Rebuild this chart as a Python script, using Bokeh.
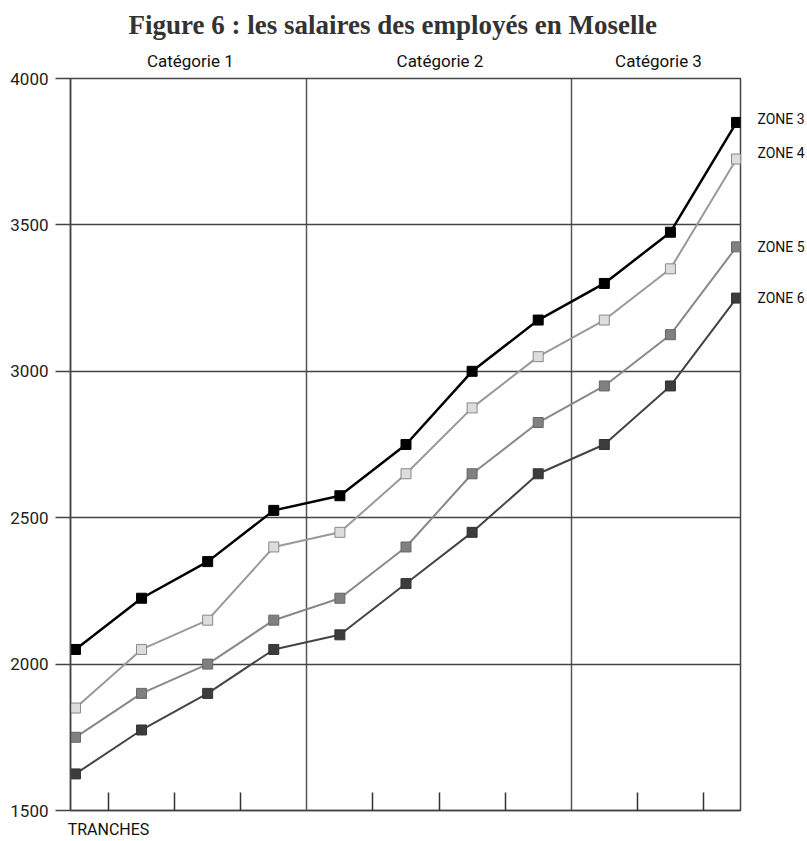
from bokeh.plotting import figure
from bokeh.models import FixedTicker, Range1d, LinearAxis, Title
from bokeh.embed import file_html
from bokeh.resources import INLINE

tranches = list(range(11))
zone3 = [2050, 2225, 2350, 2525, 2575, 2750, 3000, 3175, 3300, 3475, 3850]
zone4 = [1850, 2050, 2150, 2400, 2450, 2650, 2875, 3050, 3175, 3350, 3725]
zone5 = [1750, 1900, 2000, 2150, 2225, 2400, 2650, 2825, 2950, 3125, 3425]
zone6 = [1625, 1775, 1900, 2050, 2100, 2275, 2450, 2650, 2750, 2950, 3250]
zone_names = ["ZONE 3", "ZONE 4", "ZONE 5", "ZONE 6"]
zone_label_y = [3860, 3745, 3424, 3251]
categories = ["Catégorie 1", "Catégorie 2", "Catégorie 3"]
category_x = [1.737, 5.514, 8.82]
y_ticks = [1500, 2000, 2500, 3000, 3500, 4000]
x_label = "TRANCHES"
title_text = "Figure 6 : les salaires des employés en Moselle"

FONT = "Roboto"

p = figure(width=807, height=841, output_backend="svg", toolbar_location=None,
           x_range=Range1d(-0.075, 10.06), y_range=Range1d(1500, 4000),
           min_border_left=70, min_border_right=66, min_border_top=77, min_border_bottom=30)
p.title = Title(text=title_text, align="left", offset=58, standoff=15,
                text_font="Liberation Serif", text_font_size="27px",
                text_font_style="bold", text_color="#333333")
p.outline_line_color = "#444444"
p.outline_line_width = 1.5
p.background_fill_color = "white"
p.border_fill_color = "white"

# grids
p.ygrid.ticker = FixedTicker(ticks=[2000, 2500, 3000, 3500])
p.ygrid.grid_line_color = "#444444"
p.ygrid.grid_line_width = 1.5
p.xgrid.ticker = FixedTicker(ticks=[3.5, 7.5])
p.xgrid.grid_line_color = "#555555"
p.xgrid.grid_line_width = 1.5

# y axis
p.yaxis.ticker = FixedTicker(ticks=y_ticks)
p.yaxis.axis_line_color = "#444444"
p.yaxis.axis_line_width = 1.5
p.yaxis.major_tick_out = 15
p.yaxis.major_tick_in = 0
p.yaxis.major_tick_line_color = "#444444"
p.yaxis.major_tick_line_width = 1.5
p.yaxis.minor_tick_line_color = None
p.yaxis.major_label_standoff = 7
p.yaxis.major_label_text_font = FONT
p.yaxis.major_label_text_font_size = "17px"
p.yaxis.major_label_text_color = "#222222"

# x axis: tick marks between tranches, label TRANCHES under the first one
mid_ticks = [0.5, 1.5, 2.5, 4.5, 5.5, 6.5, 8.5, 9.5]
p.xaxis.ticker = FixedTicker(ticks=mid_ticks)
p.xaxis.major_label_overrides = {**{t: " " for t in mid_ticks[1:]}, 0.5: x_label}
p.xaxis.axis_line_color = "#444444"
p.xaxis.axis_line_width = 1.5
p.xaxis.major_tick_in = 18
p.xaxis.major_tick_out = 0
p.xaxis.major_tick_line_color = "#333333"
p.xaxis.major_tick_line_width = 1.5
p.xaxis.minor_tick_line_color = None
p.xaxis.major_label_text_font = FONT
p.xaxis.major_label_text_font_size = "16px"
p.xaxis.major_label_standoff = 9
p.xaxis.major_label_text_color = "#111111"

# category axis above
top_axis = LinearAxis(ticker=FixedTicker(ticks=category_x),
                      major_label_overrides={x: c for x, c in zip(category_x, categories)},
                      axis_line_color=None, major_tick_line_color=None,
                      minor_tick_line_color=None, major_label_standoff=2,
                      major_label_text_font=FONT, major_label_text_font_size="17px",
                      major_label_text_color="#111111")
p.add_layout(top_axis, "above")

# zone labels on the right
right_axis = LinearAxis(ticker=FixedTicker(ticks=zone_label_y),
                        major_label_overrides={y: n for y, n in zip(zone_label_y, zone_names)},
                        axis_line_color=None, major_tick_line_color=None,
                        minor_tick_line_color=None, major_label_standoff=11,
                        major_label_text_font=FONT, major_label_text_font_size="14px",
                        major_label_text_color="#111111")
p.add_layout(right_axis, "right")

series = [
    (zone3, "#000000", 2.5, "#000000", "#000000"),
    (zone4, "#999999", 2, "#dddddd", "#888888"),
    (zone5, "#888888", 2, "#808080", "#666666"),
    (zone6, "#444444", 2, "#3c3c3c", "#333333"),
]
for vals, lc, lw, fc, oc in series:
    p.line(tranches, vals, line_color=lc, line_width=lw)
    p.scatter(tranches, vals, marker="square", size=10, fill_color=fc,
              line_color=oc, line_width=1)

open("out.html", "w").write(file_html(p, INLINE))
